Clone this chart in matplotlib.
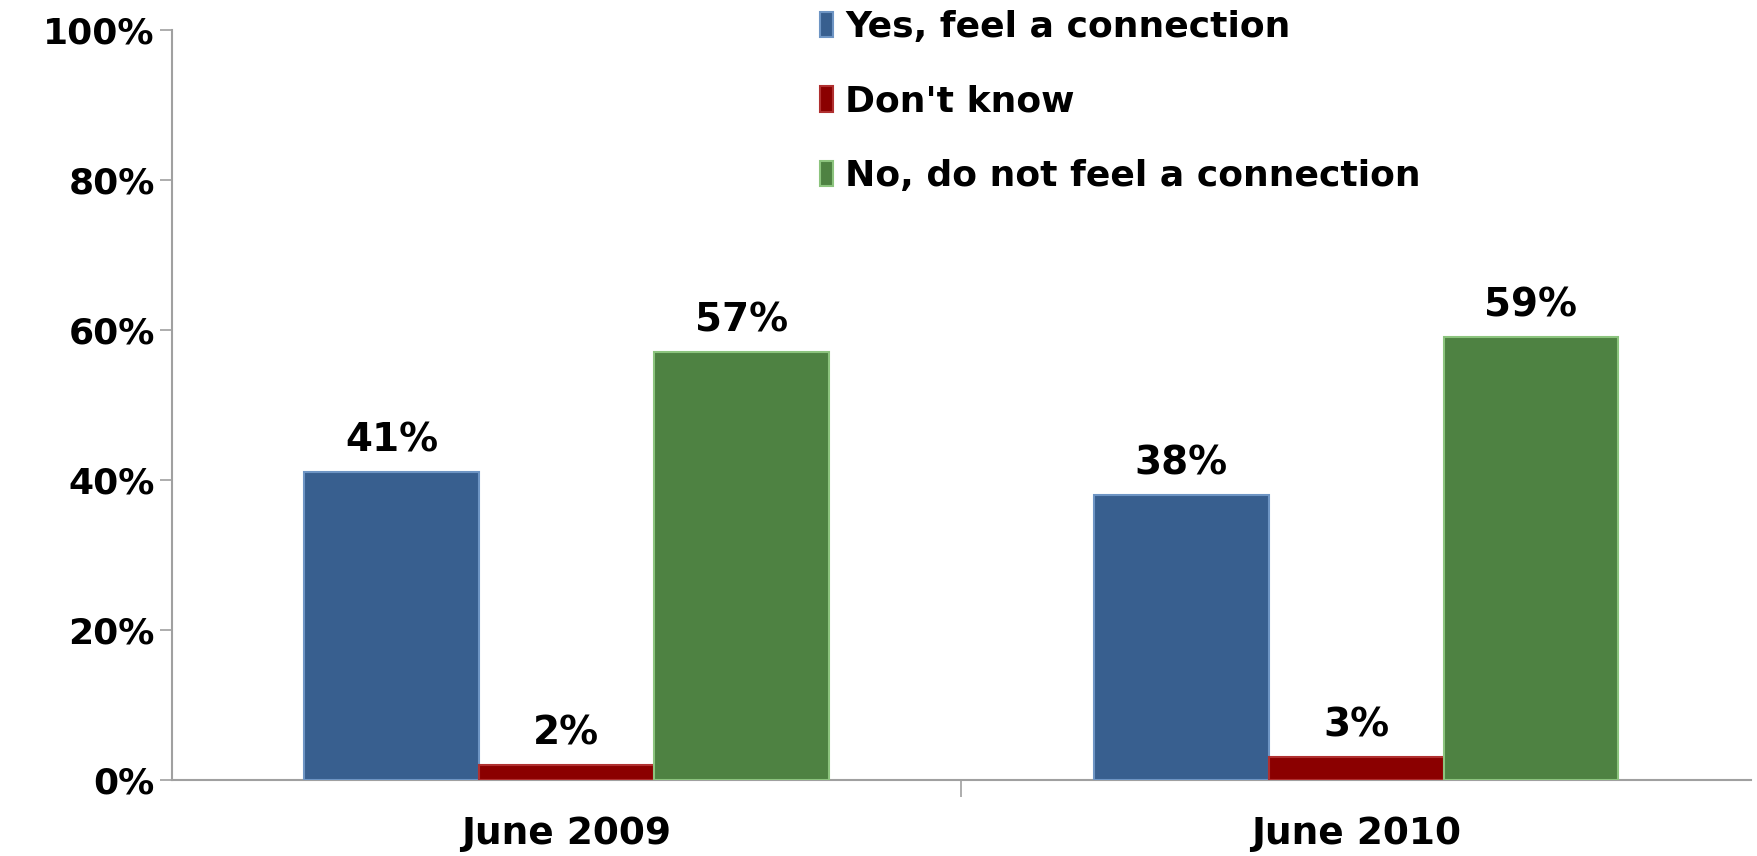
import numpy as np
import matplotlib
matplotlib.use('Agg')
import matplotlib.pyplot as plt

categories = ['June 2009', 'June 2010']
series_names = ['Yes, feel a connection', "Don't know", 'No, do not feel a connection']
yes_values = [41, 38]
dk_values = [2, 3]
no_values = [57, 59]
y_ticks = [0, 20, 40, 60, 80, 100]
y_tick_labels = ['0%', '20%', '40%', '60%', '80%', '100%']

face_colors = ['#385F8F', '#8B0000', '#4E8242']
edge_colors = ['#6E95C4', '#B03030', '#8CC47E']

plt.rcParams['font.family'] = ['DejaVu Sans']
plt.rcParams['font.weight'] = 'bold'

fig = plt.figure(figsize=(17.58, 8.56), dpi=100)
ax = fig.add_axes([0.0976, 0.0888, 0.8984, 0.8762])

x = np.arange(len(categories))
bar_w = 0.2213
all_values = [yes_values, dk_values, no_values]
for i, vals in enumerate(all_values):
    pos = x + (i - 1) * bar_w
    bars = ax.bar(pos, vals, width=bar_w, color=face_colors[i], edgecolor=edge_colors[i],
                  linewidth=1.5, label=series_names[i], zorder=3)
    for b, v in zip(bars, vals):
        ax.annotate('{0}%'.format(v), (b.get_x() + b.get_width() / 2, v), xytext=(0, 9),
                    textcoords='offset points', ha='center', va='bottom',
                    fontsize=28, fontweight='bold')

ax.set_xlim(-0.5, 1.5)
ax.set_ylim(0, 100)
ax.set_yticks(y_ticks)
ax.set_yticklabels(y_tick_labels, fontsize=26, fontweight='bold')
ax.set_xticks(x)
ax.set_xticklabels(categories, fontsize=27, fontweight='bold')
ax.tick_params(axis='x', length=0, pad=26)
ax.set_xticks([0.5], minor=True)
ax.tick_params(axis='x', which='minor', length=12, color='#A0A0A0', width=1.2)
ax.tick_params(axis='y', length=9, color='#A0A0A0', width=1.2, pad=3, direction='out')

for s in ['top', 'right']:
    ax.spines[s].set_visible(False)
for s in ['left', 'bottom']:
    ax.spines[s].set_color('#A0A0A0')
    ax.spines[s].set_linewidth(1.5)

ax.legend(loc='upper left', bbox_to_anchor=(0.448, 1.026), bbox_transform=fig.transFigure,
          frameon=False, handlelength=0.35, handleheight=0.7,
          handletextpad=0.35, labelspacing=1.12, prop={'weight': 'bold', 'size': 26})

plt.savefig('out.png', dpi=100)
